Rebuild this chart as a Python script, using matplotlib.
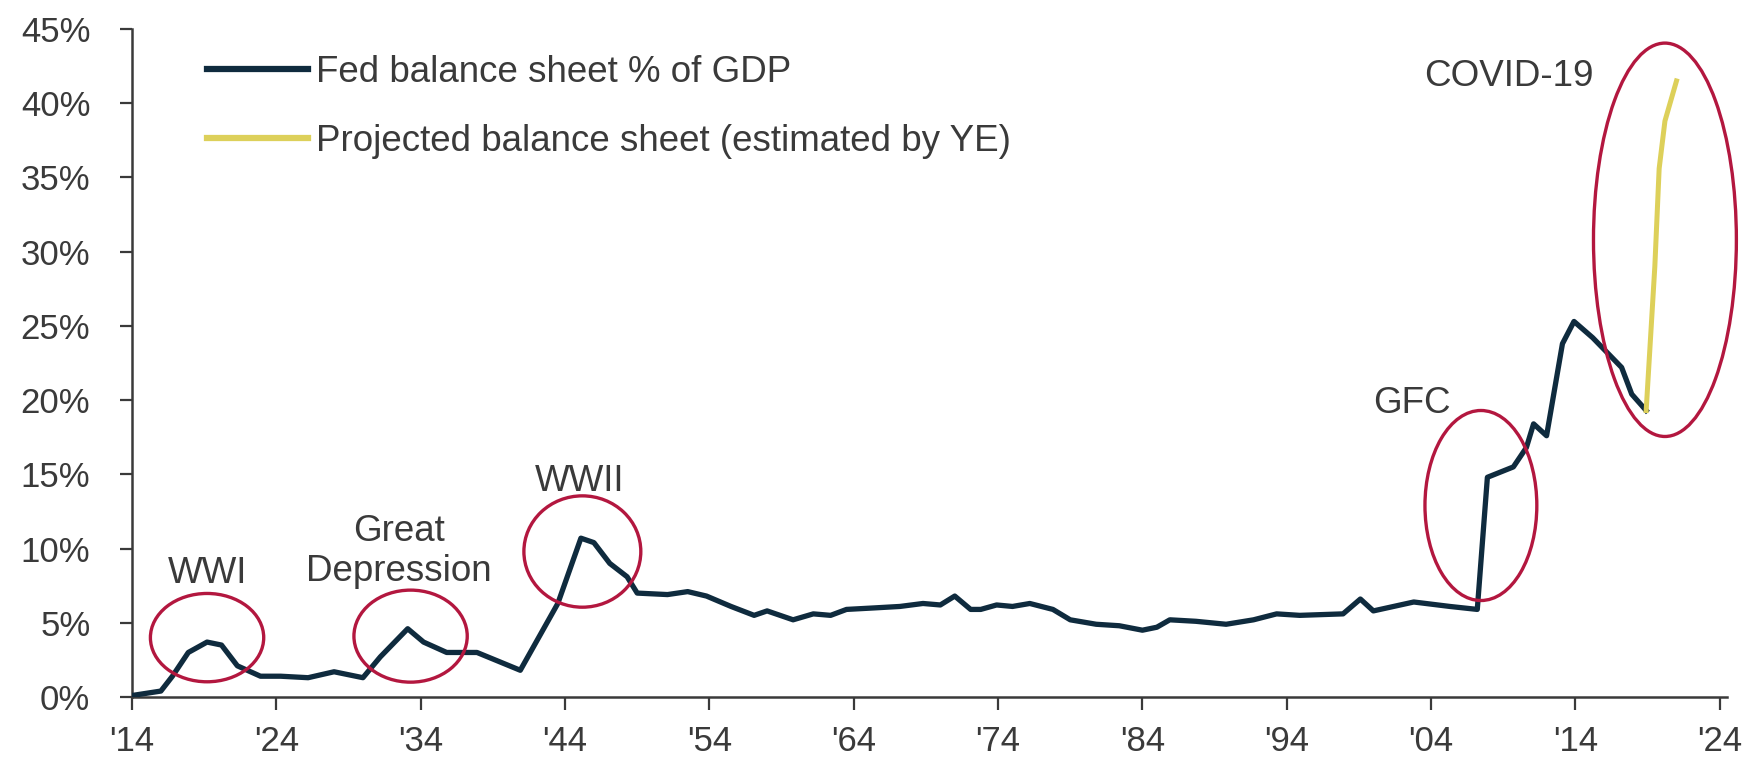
import matplotlib
matplotlib.use("Agg")
import matplotlib.pyplot as plt
from matplotlib.patches import Ellipse

plt.rcParams['font.family'] = ['Liberation Sans', 'DejaVu Sans']

# ---------------- data ----------------
years = [1914, 1916, 1916.8, 1917.9, 1919.2, 1920.2, 1921.3, 1922.9, 1924.3, 1926.2,
         1928, 1930, 1931.2, 1933.1, 1934.2, 1935.8, 1937.9, 1940.9, 1943.5, 1945.1,
         1946, 1947.1, 1948.3, 1949, 1951.1, 1952.5, 1953.8, 1955.5, 1957.1, 1958,
         1959.8, 1961.2, 1962.4, 1963.5, 1965.4, 1967.2, 1968.8, 1970, 1971, 1972.1,
         1972.8, 1973.9, 1975, 1976.2, 1977.8, 1979, 1980.8, 1982.4, 1984, 1985,
         1985.9, 1987.7, 1989.8, 1991.7, 1993.3, 1994.9, 1997.9, 1999.1, 2000, 2002.8,
         2005.3, 2007.2, 2007.9, 2009.7, 2010.6, 2011.1, 2012, 2013.1, 2013.9, 2015.2,
         2016.5, 2017.2, 2017.9, 2018.9]
fed_pct = [0.1, 0.4, 1.4, 3.0, 3.7, 3.5, 2.1, 1.4, 1.4, 1.3,
           1.7, 1.3, 2.7, 4.6, 3.7, 3.0, 3.0, 1.8, 6.3, 10.7,
           10.4, 9.0, 8.1, 7.0, 6.9, 7.1, 6.8, 6.1, 5.5, 5.8,
           5.2, 5.6, 5.5, 5.9, 6.0, 6.1, 6.3, 6.2, 6.8, 5.9,
           5.9, 6.2, 6.1, 6.3, 5.9, 5.2, 4.9, 4.8, 4.5, 4.7,
           5.2, 5.1, 4.9, 5.2, 5.6, 5.5, 5.6, 6.6, 5.8, 6.4,
           6.1, 5.9, 14.8, 15.5, 16.8, 18.4, 17.6, 23.8, 25.3, 24.2,
           22.9, 22.2, 20.4, 19.3]

proj_years = [2018.9, 2019.5, 2019.8, 2020.2, 2021.0]
proj_pct = [19.3, 29.0, 35.6, 38.8, 41.5]

xtick_years = [1914, 1924, 1934, 1944, 1954, 1964, 1974, 1984, 1994, 2004, 2014, 2024]
xtick_labels = ["'14", "'24", "'34", "'44", "'54", "'64", "'74", "'84", "'94", "'04", "'14", "'24"]
yticks = [0, 5, 10, 15, 20, 25, 30, 35, 40, 45]
ytick_labels = ["0%", "5%", "10%", "15%", "20%", "25%", "30%", "35%", "40%", "45%"]

series_labels = ["Fed balance sheet % of GDP", "Projected balance sheet (estimated by YE)"]

events = ["WWI", "Great\nDepression", "WWII", "GFC", "COVID-19"]

# ---------------- style ----------------
NAVY = '#0f2b3e'
YELLOW = '#ddd05a'
RED = '#b3173f'
TXT = '#3a3a3a'
FS = 26.5

fig = plt.figure(figsize=(17.47, 7.68), dpi=100)
ax = fig.add_axes([132/1747, 1-697/768, (1727-132)/1747, (697-29)/768])

ax.plot(years, fed_pct, color=NAVY, lw=3.8, solid_joinstyle='round', label=series_labels[0], zorder=3)
ax.plot(proj_years, proj_pct, color=YELLOW, lw=3.6, solid_joinstyle='round', label=series_labels[1], zorder=3)

ax.set_xlim(1914, 2024.5)
ax.set_ylim(0, 45)
ax.set_xticks(xtick_years)
ax.set_xticklabels(xtick_labels)
ax.set_yticks(yticks)
ax.set_yticklabels(ytick_labels)

for s in ['top', 'right']:
    ax.spines[s].set_visible(False)
for s in ['left', 'bottom']:
    ax.spines[s].set_color('#3a3a3a')
    ax.spines[s].set_linewidth(1.8)
ax.tick_params(axis='both', direction='out', length=9, width=1.6, color='#3a3a3a',
               labelsize=25, labelcolor=TXT)
ax.tick_params(axis='y', pad=21)
ax.tick_params(axis='x', pad=11)

# highlight ellipses (centre year, centre %, width yrs, height %)
ell_specs = [(1919.2, 4.0, 7.85, 5.95),
             (1933.3, 4.1, 7.85, 6.2),
             (1945.2, 9.8, 8.1, 7.5),
             (2007.45, 12.9, 7.75, 12.8),
             (2020.2, 30.8, 9.9, 26.5)]
for cx, cy, w, h in ell_specs:
    ax.add_patch(Ellipse((cx, cy), w, h, fill=False, edgecolor=RED, lw=2.4,
                         clip_on=False, zorder=4))

label_pos = [(1919.2, 8.3), (1932.5, 9.8), (1945.0, 14.5), (2002.7, 19.8), (2009.4, 41.8)]
for txt, (lx, ly) in zip(events, label_pos):
    ax.text(lx, ly, txt, ha='center', va='center', fontsize=FS, color=TXT,
            linespacing=1.15, zorder=5)

leg = ax.legend(loc='upper left', bbox_to_anchor=(0.0470, 0.961), frameon=False,
                fontsize=FS, handlelength=2.75, handletextpad=0.2,
                labelspacing=0.92, borderpad=0, borderaxespad=0)
for t in leg.get_texts():
    t.set_color(TXT)
for h in leg.get_lines():
    h.set_linewidth(4.5)

fig.savefig('out.png', dpi=100, facecolor='white')
